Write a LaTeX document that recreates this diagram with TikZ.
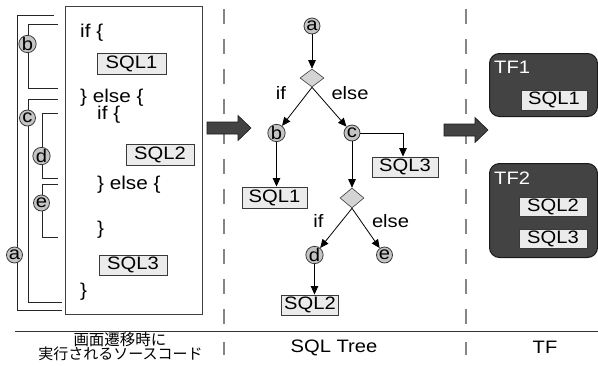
\documentclass[tikz,border=0pt]{standalone}
\usepackage{fontspec}
\setmainfont{Liberation Sans}[FakeStretch=1.12]
\newfontfamily\jpfont{Noto Sans CJK JP}
\usetikzlibrary{arrows.meta,shapes.geometric}
\definecolor{boxfill}{HTML}{EBEBEB}
\definecolor{boxline}{HTML}{3A3A3A}
\definecolor{circfill}{HTML}{C4C4C4}
\definecolor{circline}{HTML}{3A3A3A}
\definecolor{diafill}{HTML}{D4D4D4}
\definecolor{tfdark}{HTML}{434343}
\definecolor{sepgray}{HTML}{858585}
\begin{document}
\begin{tikzpicture}[x=1pt,y=-1pt,
  codetxt/.style={anchor=west,inner sep=0pt,font=\fontsize{18.5}{21}\selectfont},
  sqlbox/.style={draw=boxline,fill=boxfill,line width=0.9pt,inner sep=0pt,minimum height=20pt,font=\fontsize{18}{20}\selectfont},
  circ/.style={circle,draw=circline,fill=circfill,line width=0.8pt,minimum size=16pt,inner sep=0pt,font=\fontsize{18}{18}\selectfont},
  dia/.style={diamond,draw=circline,fill=diafill,line width=0.6pt,minimum width=24pt,minimum height=18pt,inner sep=0pt},
  arr/.style={-{Triangle[length=8.5pt,width=7.5pt]},line width=0.8pt},
  lbl/.style={inner sep=0pt,font=\fontsize{18}{20}\selectfont},
  brk/.style={line width=0.9pt,draw=black!85},
  tfbox/.style={draw=black!90,fill=tfdark,rounded corners=10pt,line width=1pt,minimum width=108pt,anchor=north west},
  bigarrow/.style={fill=tfdark,draw=black!90,line width=0.6pt},
  sep/.style={draw=sepgray,line width=1.6pt,dash pattern=on 15pt off 15pt}]
\useasboundingbox (0,0) rectangle (598,365);

% ---- code column ----
\node[draw=black!75,line width=0.9pt,minimum width=137pt,minimum height=308pt,inner sep=0pt] (code) at (133.5,160) {};
\node[codetxt] (c1) at (80,33) {if \{};
\node[sqlbox,minimum width=69pt,minimum height=21pt] (cs1) at (131.5,63.5) {SQL1};
\node[codetxt] (c2) at (80,98) {\} else \{};
\node[codetxt] (c3) at (97,115) {if \{};
\node[sqlbox,minimum width=68pt,minimum height=21pt] (cs2) at (160,155) {SQL2};
\node[codetxt] (c4) at (97,185) {\} else \{};
\node[codetxt] (c5) at (97,230) {\}};
\node[sqlbox,minimum width=68pt,minimum height=20pt] (cs3) at (133,265) {SQL3};
\node[codetxt] (c6) at (80,292) {\}};

% brackets
\draw[brk] (54,15) -- (17,15) -- (17,310) -- (62,310);
\draw[brk] (58,24) -- (28,24) -- (28,88) -- (58,88);
\draw[brk] (58,99) -- (28,99) -- (28,302) -- (62,302);
\draw[brk] (58,113) -- (42,113) -- (42,178) -- (58,178);
\draw[brk] (58,184) -- (42,184) -- (42,237) -- (58,237);
\node[circ] (ba) at (14.5,255) {a};
\node[circ] (bb) at (27.5,44) {b};
\node[circ] (bc) at (27.5,118) {c};
\node[circ] (bd) at (41.5,156) {d};
\node[circ] (be) at (41.5,203) {e};

% ---- separators ----
\draw[sep] (224,9) -- (224,325);
\draw[sep] (466,9) -- (466,325);
\draw[sepgray,line width=1.6pt] (224,342) -- (224,355);
\draw[sepgray,line width=1.6pt] (466,342) -- (466,355);
\draw[black!80,line width=0.9pt] (15,331) -- (598,331);

% ---- big arrows ----
\draw[bigarrow] (207,122) -- (238,122) -- (238,115.5) -- (251,128) -- (238,140.5) -- (238,134) -- (207,134) -- cycle;
\draw[bigarrow] (444,124) -- (475,124) -- (475,117.5) -- (488,130) -- (475,142.5) -- (475,136) -- (444,136) -- cycle;

% ---- tree ----
\node[circ] (ta) at (312,26) {a};
\node[dia] (d1) at (312,78) {};
\node[circ] (tb) at (276.5,133) {b};
\node[circ] (tc) at (352,133) {c};
\node[sqlbox,minimum width=65pt,minimum height=21pt] (t1) at (274.5,197.5) {SQL1};
\node[sqlbox,minimum width=66pt] (t3) at (405,167) {SQL3};
\node[dia,minimum height=20pt] (d2) at (352,198) {};
\node[circ] (td) at (314.5,255) {d};
\node[circ] (te) at (384.5,255) {e};
\node[sqlbox,minimum width=57pt] (t2) at (310,305) {SQL2};

\draw[arr] (ta) -- (d1.north);
\draw[arr] (d1.south) -- (tb);
\draw[arr] (d1.south) -- (tc);
\draw[arr] (tb) -- (tb |- t1.north);
\draw[arr] (tc.east) -| ([xshift=-2pt]t3.north);
\draw[arr] (tc) -- (d2.north);
\draw[arr] (d2.south) -- (td);
\draw[arr] (d2.south) -- (te);
\draw[arr] (td) -- (td |- t2.north);

\node[lbl] (if1) at (281,93) {if};
\node[lbl] (el1) at (350,93) {else};
\node[lbl] (if2) at (318.5,221) {if};
\node[lbl] (el2) at (390.5,221) {else};

% ---- TF column ----
\node[tfbox,minimum height=63pt] (tf1) at (489,53) {};
\node[tfbox,minimum height=94pt] (tf2) at (489,163) {};
\node[lbl,anchor=west,text=white] (tf1l) at (494,67) {TF1};
\node[lbl,anchor=west,text=white] (tf2l) at (494,178) {TF2};
\node[sqlbox,minimum width=66pt] (f1) at (554,100) {SQL1};
\node[sqlbox,minimum width=68pt,minimum height=19pt] (f2) at (553,206.5) {SQL2};
\node[sqlbox,minimum width=68pt,minimum height=19pt] (f3) at (553,238.5) {SQL3};

% ---- bottom labels ----
\node[inner sep=0pt,font=\jpfont\fontsize{15.5}{16}\selectfont] (j1) at (120,340) {画面遷移時に};
\node[inner sep=0pt,font=\jpfont\fontsize{15}{16}\selectfont] (j2) at (120.5,354) {実行されるソースコード};
\node[lbl] (st) at (334,348) {SQL Tree};
\node[lbl] (tfl) at (545,347) {TF};
\end{tikzpicture}
\end{document}
